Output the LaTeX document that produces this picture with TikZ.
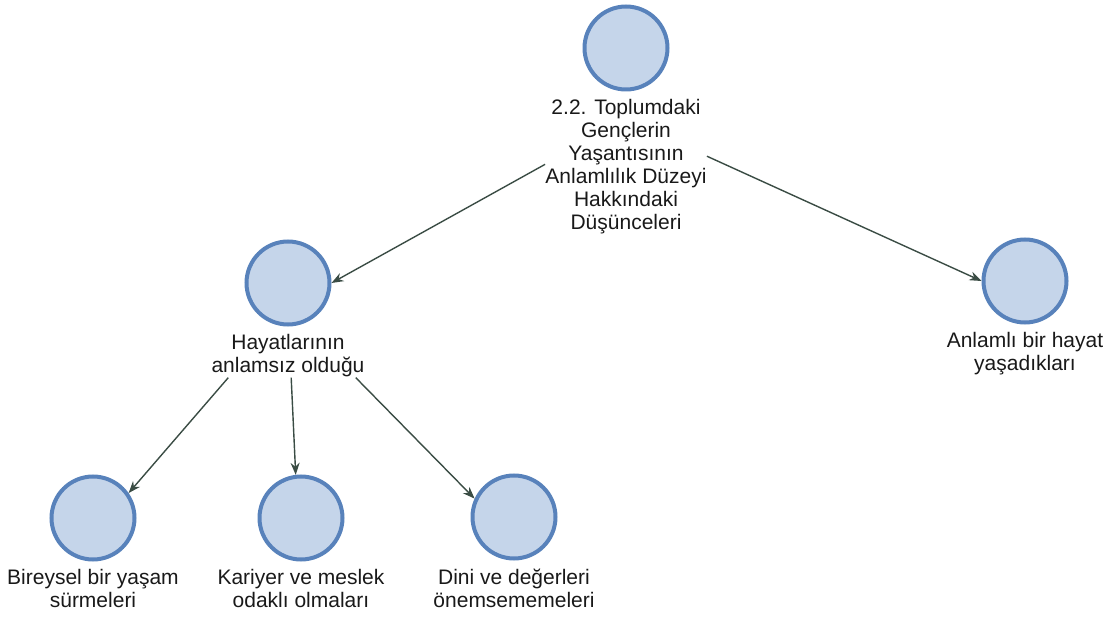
\documentclass[tikz,border=0pt]{standalone}
\usepackage{fontspec}
\setsansfont{Liberation Sans}
\usepackage{tikz}
\usetikzlibrary{arrows.meta,positioning,fit}
\definecolor{codefill}{RGB}{197,213,234}
\definecolor{codeline}{RGB}{88,130,187}
\definecolor{linkcol}{RGB}{58,76,68}

\begin{document}
\begin{tikzpicture}[
  x=1pt,y=-1pt,
  font=\sffamily\fontsize{21}{23}\selectfont,
  code/.style={circle,draw=codeline,line width=4pt,fill=codefill,minimum size=83pt,inner sep=0pt},
  codename/.style={below=8pt of #1,inner sep=0pt,text=black!90},
  codebox/.style={inner sep=0pt},
  link/.style={-{Stealth[length=12pt,width=9pt]},line width=1.4pt,linkcol},
  every node/.style={align=center}]

  \useasboundingbox (0,0) rectangle (1109,617);

  % Place the codes at their positions
  \node[code] (toplum) at (626,48) {};
  \node[code] (anlamsiz) at (288,283) {};
  \node[code] (anlamli) at (1025,281) {};
  \node[code] (bireysel) at (93,518) {};
  \node[code] (kariyer) at (301,518) {};
  \node[code] (dini) at (514,517) {};

  % Names under the codes
  \node[codename=toplum] (toplum_lbl) {2.2. Toplumdaki\\Gençlerin\\Yaşantısının\\Anlamlılık Düzeyi\\Hakkındaki\\Düşünceleri};
  \node[codename=anlamsiz] (anlamsiz_lbl) {Hayatlarının\\anlamsız olduğu};
  \node[codename=anlamli] (anlamli_lbl) {Anlamlı bir hayat\\yaşadıkları};
  \node[codename=bireysel] (bireysel_lbl) {Bireysel bir yaşam\\sürmeleri};
  \node[codename=kariyer] (kariyer_lbl) {Kariyer ve meslek\\odaklı olmaları};
  \node[codename=dini] (dini_lbl) {Dini ve değerleri\\önemsememeleri};

  % Boxes round code and name, the links start there
  \node[codebox,fit=(toplum)(toplum_lbl)] (toplum_box) {};
  \node[codebox,fit=(anlamsiz)(anlamsiz_lbl)] (anlamsiz_box) {};

  % Draw the links between the codes
  \draw[link] (toplum_box) -- (anlamsiz.east);
  \draw[link] (toplum_box) -- (anlamli.west);
  \draw[link] (anlamsiz_box) -- (bireysel.35);
  \draw[link] (anlamsiz_box) -- (kariyer.97);
  \draw[link] (anlamsiz_box) -- (dini.155);
\end{tikzpicture}
\end{document}
